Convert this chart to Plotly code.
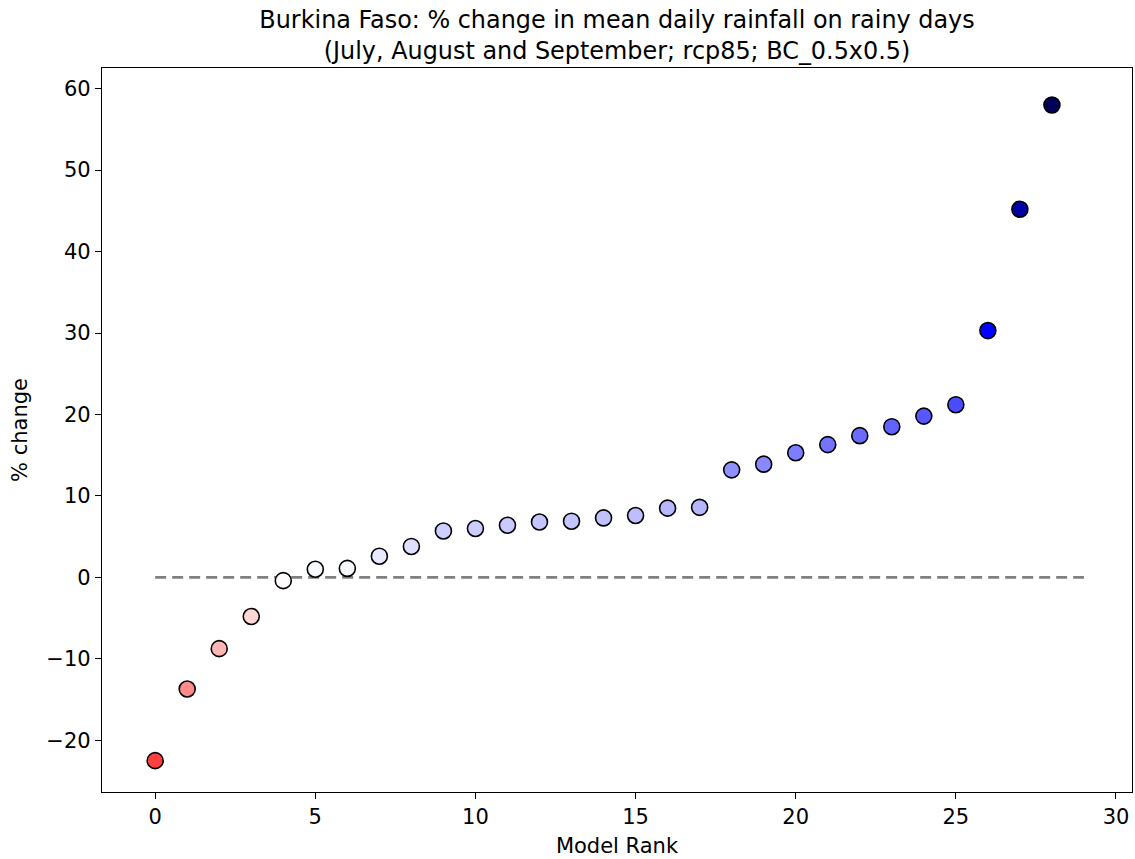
import plotly.graph_objects as go

model_rank = list(range(29))
pct_change = [-22.5, -13.7, -8.75, -4.8, -0.4, 1.0, 1.1, 2.6, 3.8, 5.7,
              6.0, 6.4, 6.8, 6.9, 7.3, 7.6, 8.5, 8.6, 13.2, 13.9,
              15.3, 16.3, 17.4, 18.5, 19.8, 21.2, 30.3, 45.2, 58.0]
zero_line_x = [0, 29]
zero_line_y = [0, 0]
x_ticks = [0, 5, 10, 15, 20, 25, 30]
y_ticks = [-20, -10, 0, 10, 20, 30, 40, 50, 60]

# matplotlib "seismic_r" colormap
seismic_r = [[0.0, "rgb(128,0,0)"], [0.25, "rgb(255,0,0)"], [0.5, "rgb(255,255,255)"],
             [0.75, "rgb(0,0,255)"], [1.0, "rgb(0,0,77)"]]

font = "DejaVu Sans"
W, H = 1135, 859
fig = go.Figure()
fig.add_trace(go.Scatter(x=zero_line_x, y=zero_line_y, mode="lines",
                         line=dict(color="#808080", width=2.6, dash="11px,6px"),
                         hoverinfo="skip", showlegend=False))
fig.add_trace(go.Scatter(x=model_rank, y=pct_change, mode="markers",
                         marker=dict(size=16, color=pct_change, colorscale=seismic_r,
                                     cmin=-60, cmax=60,
                                     line=dict(color="black", width=1.6)),
                         showlegend=False))

axis_common = dict(showgrid=False, zeroline=False, showline=True, linecolor="black",
                   linewidth=1.3, mirror=True, ticks="outside", ticklen=6, tickwidth=1.2,
                   tickcolor="black", tickfont=dict(family=font, size=21, color="black"))
fig.update_layout(
    width=W, height=H,
    margin=dict(l=102, r=3, t=68, b=67),
    plot_bgcolor="white", paper_bgcolor="white",
    title=dict(text="Burkina Faso: % change in mean daily rainfall on rainy days<br>(July, August and September; rcp85; BC_0.5x0.5)",
               x=617 / W, xanchor="center", xref="container",
               y=1 - 28 / H, yanchor="middle", yref="container",
               font=dict(family=font, size=23.9, color="black")),
    xaxis=dict(range=[-1.66, 30.5], tickvals=x_ticks,
               title=dict(text="Model Rank", font=dict(family=font, size=21, color="black"), standoff=9),
               **axis_common),
    yaxis=dict(range=[-26.35, 62.54], tickvals=y_ticks,
               title=dict(text="% change", font=dict(family=font, size=21, color="black"), standoff=12),
               **axis_common),
)
fig.write_html("out.html", config={"displayModeBar": False},
               post_script="document.body.style.margin='0px';document.body.style.overflow='hidden';")
